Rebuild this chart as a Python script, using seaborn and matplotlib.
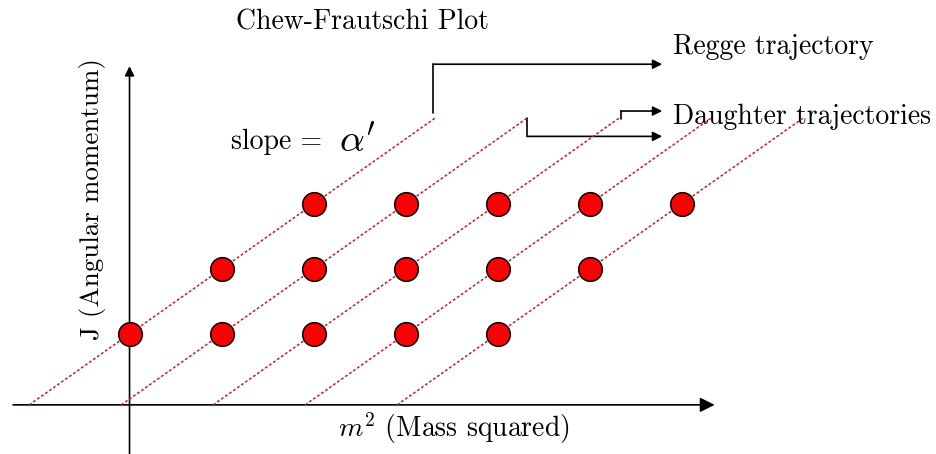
import matplotlib
matplotlib.use("Agg")
import matplotlib.pyplot as plt
import seaborn as sns
import pandas as pd

# ---- data ----
# Resonances: (m^2, J) on leading and daughter trajectories
m2_J0 = [0, 1, 2, 3, 4]
m2_J1 = [1, 2, 3, 4, 5]
m2_J2 = [2, 3, 4, 5, 6]
J_rows = [0, 1, 2]
# Trajectories J = alpha' * m^2 - k
slope_alpha = 1.0
traj_offsets = [0, 1, 2, 3, 4]
J_start = -1.09
J_end = 3.32

title = "Chew-Frautschi Plot"
xlabel = "$m^2$ (Mass squared)"
ylabel = "J (Angular momentum)"
regge_label = "Regge trajectory"
daughter_label = "Daughter trajectories"
slope_label = "slope ="
alpha_label = r"$\alpha'$"

sns.set_theme(style="white")
plt.rcParams["font.family"] = ["cmr10", "DejaVu Sans"]
plt.rcParams["mathtext.fontset"] = "cm"
plt.rcParams["axes.formatter.use_mathtext"] = True
plt.rcParams["text.color"] = "black"

fig = plt.figure(figsize=(9.37, 4.54), dpi=100)
ax = fig.add_axes([0, 0, 1, 1])
ax.set_xlim(-1.408, 8.777)
ax.set_ylim(-1.846, 5.138)
ax.axis("off")

red = "#c81a2a"
# trajectories
for k in traj_offsets:
    m_a = J_start / slope_alpha + k
    m_b = J_end / slope_alpha + k
    ax.plot([m_a, m_b], [J_start, J_end], color=red, lw=1.1,
            linestyle=(0, (1.8, 1.4)), zorder=5)

# axes arrows
ax.annotate("", xy=(6.36, J_start), xytext=(-1.266, J_start),
            arrowprops=dict(arrowstyle="-|>", color="black", lw=1.2,
                            mutation_scale=22, shrinkA=0, shrinkB=0), zorder=1)
ax.annotate("", xy=(0, 4.12), xytext=(0, -1.846),
            arrowprops=dict(arrowstyle="-|>", color="black", lw=1.2,
                            mutation_scale=14, shrinkA=0, shrinkB=0), zorder=1)

# resonances
df = pd.DataFrame({
    "m2": m2_J0 + m2_J1 + m2_J2,
    "J": [J_rows[0]] * len(m2_J0) + [J_rows[1]] * len(m2_J1) + [J_rows[2]] * len(m2_J2),
})
sns.scatterplot(data=df, x="m2", y="J", ax=ax, s=290, color="#ff0000",
                edgecolor="black", linewidth=1.1, zorder=4, legend=False)

# bracket arrows
end0 = J_end / slope_alpha + traj_offsets[0]
end1 = J_end / slope_alpha + traj_offsets[1]
end2 = J_end / slope_alpha + traj_offsets[2]
x_tip = 5.79
y_regge = 4.15
y_d1 = 3.43
y_d2 = 3.04
ap = dict(arrowstyle="-|>", color="black", lw=1.2, mutation_scale=14,
          shrinkA=0, shrinkB=0)
ax.plot([end0 - 0.02, end0 - 0.02], [J_end + 0.08, y_regge], color="black", lw=1.2)
ax.annotate("", xy=(x_tip, y_regge), xytext=(end0 - 0.02, y_regge), arrowprops=ap)
ax.plot([end1, end1], [J_end + 0.01, y_d2], color="black", lw=1.2)
ax.annotate("", xy=(x_tip, y_d2), xytext=(end1, y_d2), arrowprops=ap)
ax.plot([end2 + 0.02, end2 + 0.02], [J_end - 0.02, y_d1], color="black", lw=1.2)
ax.annotate("", xy=(x_tip, y_d1), xytext=(end2 + 0.02, y_d1), arrowprops=ap)

# texts
ax.text(2.53, 4.80, title, fontsize=20, ha="center", va="center")
ax.text(5.91, 4.42, regge_label, fontsize=20, ha="left", va="center")
ax.text(5.91, 3.34, daughter_label, fontsize=20, ha="left", va="center")
ax.text(1.10, 2.95, slope_label, fontsize=20, ha="left", va="center")
ax.text(2.28, 2.95, alpha_label, fontsize=28, ha="left", va="center")
ax.text(2.27, -1.45, xlabel, fontsize=20, ha="left", va="center")
ax.text(-0.40, 2.08, ylabel, fontsize=19.5, ha="center", va="center", rotation=90)

fig.savefig("out.png", dpi=100)
